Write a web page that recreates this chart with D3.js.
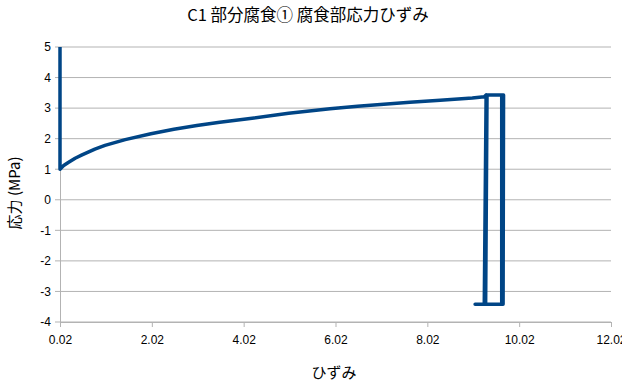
<!DOCTYPE html>
<html><head><meta charset="utf-8">
<script src="https://cdn.jsdelivr.net/npm/d3@7"></script>
<style>body{margin:0;background:#fff}svg{display:block}</style>
</head><body>
<svg id="c" width="622" height="388"></svg>
<script>
const titleText = "C1 部分腐食① 腐食部応力ひずみ";
const xTitle = "ひずみ";
const yTitle = "応力 (MPa)";
const xTicks = [0.02, 2.02, 4.02, 6.02, 8.02, 10.02, 12.02];
const yTicks = [-4, -3, -2, -1, 0, 1, 2, 3, 4, 5];
const strain = [0.02, 0.02, 0.1, 0.2, 0.35, 0.5, 0.78, 1.0, 1.44, 2.0, 2.5, 3.0, 3.5, 4.16, 5.0, 5.9, 6.5, 7.0, 7.64, 8.3, 9.0, 9.26, 9.30, 9.26, 9.06, 9.29, 9.32, 9.68, 9.67, 9.29, 9.64, 9.64];
const stress = [5.0, 1.0, 1.12, 1.22, 1.36, 1.47, 1.66, 1.78, 1.97, 2.16, 2.31, 2.43, 2.54, 2.66, 2.83, 2.98, 3.06, 3.12, 3.19, 3.26, 3.33, 3.37, 3.43, -3.42, -3.42, -3.42, 3.43, 3.43, -3.42, -3.42, -3.42, 3.43];

const svg = d3.select("#c");
const x = d3.scaleLinear().domain([0.02, 12.02]).range([60, 611]);
const y = d3.scaleLinear().domain([-4, 5]).range([322, 47]);
const grid = "#b3b3b3";

svg.append("g").selectAll("line").data(yTicks).join("line")
  .attr("x1", 55).attr("x2", 611)
  .attr("y1", d => y(d)).attr("y2", d => y(d))
  .attr("stroke", grid).attr("stroke-width", 1);

const xa = svg.append("g").attr("transform", "translate(0,322)")
  .call(d3.axisBottom(x).tickValues(xTicks).tickSize(5).tickSizeOuter(0).tickFormat(d3.format(".2f")));
xa.select(".domain").attr("stroke", grid);
xa.selectAll(".tick line").attr("stroke", grid);
xa.selectAll("text").attr("fill", "#000").attr("font-family", "Liberation Sans, Arial, sans-serif").attr("font-size", 12).attr("dy", "1.2em");

const ya = svg.append("g").attr("transform", "translate(60,0)")
  .call(d3.axisLeft(y).tickValues(yTicks).tickSize(0).tickFormat(d => String(d)));
ya.select(".domain").attr("stroke", grid);
ya.selectAll("text").attr("fill", "#000").attr("font-family", "Liberation Sans, Arial, sans-serif").attr("font-size", 12).attr("x", -9);

const pts = strain.map((s, i) => [s, stress[i]]);
svg.append("path").datum(pts)
  .attr("d", d3.line().x(d => x(d[0])).y(d => y(d[1])))
  .attr("fill", "none").attr("stroke", "#004586").attr("stroke-width", 3.5)
  .attr("stroke-linejoin", "round");

const cjk = "'Noto Sans CJK JP', 'Liberation Sans', sans-serif";
svg.append("text").attr("x", 308).attr("y", 21).attr("text-anchor", "middle")
  .attr("font-family", cjk).attr("font-size", 16.5).attr("fill", "#000").text(titleText);
svg.append("text").attr("x", 334).attr("y", 378).attr("text-anchor", "middle")
  .attr("font-family", cjk).attr("font-size", 15).attr("fill", "#000").text(xTitle);
svg.append("text").attr("transform", "translate(20,193) rotate(-90)").attr("text-anchor", "middle")
  .attr("font-family", cjk).attr("font-size", 15).attr("fill", "#000").text(yTitle);
</script>
</body></html>
